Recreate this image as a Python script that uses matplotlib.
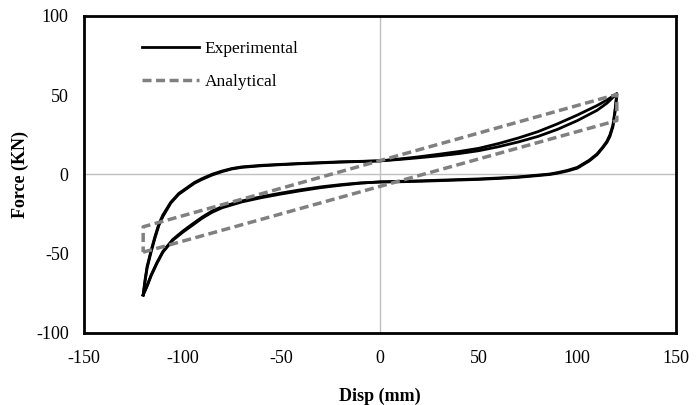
import matplotlib
matplotlib.use("Agg")
import matplotlib.pyplot as plt

plt.rcParams['font.family'] = ['Liberation Serif', 'DejaVu Serif']
plt.rcParams['axes.unicode_minus'] = False

# experimental loop, cycle 1 (loading branch left -> right, then unloading right -> left)
exp1_up_x = [-120, -119, -118, -116, -114, -112, -110, -106, -102, -98, -94, -90, -85, -80, -75,
             -70, -60, -50, -40, -30, -20, -10, 0, 10, 20, 30, 40, 50, 60, 70, 80, 90, 100, 110, 115, 120]
exp1_up_y = [-76, -67, -59, -49, -40, -32, -26.5, -18, -12.5, -9, -5.5, -3, -0.3, 1.8, 3.5,
             4.5, 5.5, 6.2, 6.8, 7.3, 7.8, 8.2, 8.6, 9.8, 11.2, 12.8, 14.5, 16.5, 19.5, 23, 27, 32, 37.5, 43.5, 47, 51]
exp1_dn_x = [120, 119.5, 119, 118, 116.5, 115, 113, 110, 106, 100, 95, 90, 86, 80, 70, 60, 50, 40, 30, 20, 10, 0,
             -10, -20, -30, -40, -50, -60, -70, -80, -85, -90, -95, -100, -105, -110, -113, -116, -118, -120]
exp1_dn_y = [51, 45, 39.5, 31, 25, 21, 17.5, 13, 9, 4.5, 2.6, 1.2, 0.3, -0.4, -1.5, -2.2, -2.8, -3.2, -3.6, -4, -4.3, -4.6,
             -5.5, -6.8, -8.3, -10.2, -12.3, -14.6, -17.3, -21, -23.8, -27.5, -32, -36.5, -41.5, -49, -56, -64, -70.5, -76]

# cycle 2
exp2_up_x = [-120, -119, -118, -116, -114, -112, -110, -106, -102, -98, -94, -90, -85, -80, -75,
             -70, -60, -50, -40, -30, -20, -10, 0, 10, 20, 30, 40, 50, 60, 70, 80, 90, 100, 110, 115, 120]
exp2_up_y = [-76, -66, -58, -48, -39, -31, -25.5, -17.5, -12, -8.5, -5, -2.5, 0.2, 2.2, 3.8,
             4.8, 5.8, 6.4, 7, 7.5, 8, 8.3, 8.6, 9.5, 10.6, 11.8, 13.2, 15, 17.5, 20.5, 24, 28.5, 34, 40.5, 45, 51]
exp2_dn_x = [120, 119.5, 119, 118, 116.5, 115, 113, 110, 106, 100, 95, 90, 86, 80, 70, 60, 50, 40, 30, 20, 10, 0,
             -10, -20, -30, -40, -50, -60, -70, -80, -85, -90, -95, -100, -105, -110, -113, -116, -118, -120]
exp2_dn_y = [51, 44, 38.5, 30, 24, 20.3, 17, 12.5, 8.5, 4, 2.2, 0.8, 0, -0.7, -1.8, -2.5, -3.1, -3.5, -3.9, -4.3, -4.6, -4.8,
             -5.3, -6.4, -7.8, -9.6, -11.7, -14, -16.7, -20.3, -23, -26.8, -31.2, -35.8, -41, -48.5, -55.5, -63.5, -70, -76]

# analytical parallelogram
ana_x = [-120, 120, 120, -120, -120]
ana_y = [-49, 34, 50.5, -33, -49]

fig = plt.figure(figsize=(6.98, 4.05), dpi=100)
ax = fig.add_axes([0.1203, 0.1778, 0.8482, 0.7827])

ax.axhline(0, color='#c0c0c0', lw=1, zorder=0)
ax.axvline(0, color='#c0c0c0', lw=1, zorder=0)

ax.plot(exp1_up_x + exp1_dn_x, exp1_up_y + exp1_dn_y, color='black', lw=2, label='Experimental', zorder=3)
ax.plot(exp2_up_x + exp2_dn_x, exp2_up_y + exp2_dn_y, color='black', lw=2, zorder=3)
ax.plot(ana_x, ana_y, color='#808080', lw=2.5, ls=(0, (2.6, 1.3)), label='Analytical', zorder=4)

ax.set_xlim(-150, 150)
ax.set_ylim(-100, 100)
ax.set_xticks([-150, -100, -50, 0, 50, 100, 150])
ax.set_yticks([-100, -50, 0, 50, 100])
ax.tick_params(length=0, labelsize=13)
ax.tick_params(axis='x', pad=12)
ax.tick_params(axis='y', pad=11)
for s in ax.spines.values():
    s.set_linewidth(2)

ax.set_xlabel('Disp (mm)', fontsize=13, fontweight='bold', labelpad=15)
ax.set_ylabel('Force (KN)', fontsize=13, fontweight='bold', labelpad=5)

ax.legend(loc='upper left', bbox_to_anchor=(0.086, 0.942), frameon=False, fontsize=12.5,
          handlelength=3.3, handletextpad=0.3, labelspacing=0.95, borderaxespad=0)

fig.savefig('out.png', dpi=100)
